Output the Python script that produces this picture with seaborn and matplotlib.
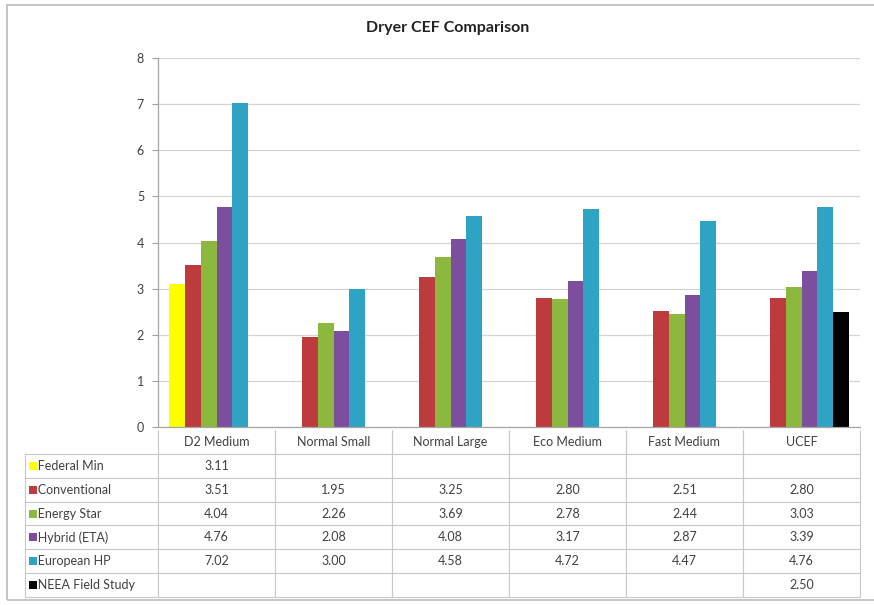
import matplotlib.pyplot as plt
import seaborn as sns
import pandas as pd
import numpy as np
from matplotlib.patches import Rectangle

categories = ["D2 Medium", "Normal Small", "Normal Large", "Eco Medium", "Fast Medium", "UCEF"]
series = ["Federal Min", "Conventional", "Energy Star", "Hybrid (ETA)", "European HP", "NEEA Field Study"]
federal_min = [3.11, None, None, None, None, None]
conventional = [3.51, 1.95, 3.25, 2.80, 2.51, 2.80]
energy_star = [4.04, 2.26, 3.69, 2.78, 2.44, 3.03]
hybrid_eta = [4.76, 2.08, 4.08, 3.17, 2.87, 3.39]
european_hp = [7.02, 3.00, 4.58, 4.72, 4.47, 4.76]
neea_field = [None, None, None, None, None, 2.50]
colors = ["#FFFF00", "#BE3B3D", "#8DB83E", "#7B4F9E", "#2FA3C4", "#000000"]

values = [federal_min, conventional, energy_star, hybrid_eta, european_hp, neea_field]
rows = []
for s, vals in zip(series, values):
    for c, v in zip(categories, vals):
        rows.append({"category": c, "series": s, "value": np.nan if v is None else v})
df = pd.DataFrame(rows)

sns.set_style("white")
plt.rcParams['font.family'] = ['Lato', 'DejaVu Sans']

fig = plt.figure(figsize=(8.74, 6.05), dpi=100)
ax = fig.add_axes([158 / 874, 1 - 427 / 605, 702 / 874, 369 / 605])

sns.barplot(data=df, x="category", y="value", hue="series", order=categories,
            hue_order=series, palette=colors, width=0.82, gap=0, ax=ax,
            legend=False, saturation=1, edgecolor="none")

ax.set_ylim(0, 8)
ax.set_xlim(-0.5, len(categories) - 0.5)
ax.set_yticks(range(0, 9))
ax.yaxis.grid(True, color="#D4D4D4", linewidth=0.9)
ax.set_axisbelow(True)
ax.set_xlabel("")
ax.set_ylabel("")
ax.set_xticks([])
ax.tick_params(axis="y", labelsize=9, colors="#404040", length=4, width=0.8, left=True, pad=6)
for t in ax.get_yticklabels():
    t.set_color("#404040")
ax.tick_params(axis="y", color="#A0A0A0")
for side in ["top", "right"]:
    ax.spines[side].set_visible(False)
for side in ["left", "bottom"]:
    ax.spines[side].set_color("#A6A6A6")
    ax.spines[side].set_linewidth(0.9)

# data table
cell_text = []
for s, vals in zip(series, values):
    cell_text.append(["   " + s] + ["" if v is None else f"{v:.2f}" for v in vals])
col_labels = [""] + categories
widths = [133] + [117] * 6
tot = sum(widths)
tab_left = -133 / 702
tab_top = -3 / 369
tab_h = 167 / 369
tab = ax.table(cellText=cell_text, colLabels=col_labels, colWidths=[w / tot for w in widths],
               cellLoc="center", bbox=[tab_left, tab_top - tab_h, tot / 702, tab_h])
tab.auto_set_font_size(False)
for (r, c), cell in tab.get_celld().items():
    cell.set_edgecolor("#C8C8C8")
    cell.set_linewidth(0.8)
    cell.get_text().set_fontsize(9)
    cell.get_text().set_color("#404040")
    if r == 0 and c == 0:
        cell.visible_edges = ""
    elif r == 0:
        cell.visible_edges = "BLR"
    if c == 0 and r > 0:
        cell.get_text().set_ha("left")
        cell._loc = "left"
        cell.PAD = 0.02

row_h = tab_h / 7
for i, col in enumerate(colors):
    yc = tab_top - row_h * (i + 1.5)
    ax.add_patch(Rectangle((tab_left + 4 / 702, yc - 4 / 369), 8 / 702, 8 / 369,
                           transform=ax.transAxes, clip_on=False, facecolor=col,
                           edgecolor="none"))

fig.text(0.512, 1 - 28 / 605, "Dryer CEF Comparison", ha="center", va="center",
         fontsize=11.5, fontweight="bold", color="#222222")

# chart border
fig.add_artist(Rectangle((7 / 874, 5 / 605), 1.0, 1 - 10 / 605, transform=fig.transFigure,
                         facecolor="none", edgecolor="#BBBBBB", linewidth=1.2))

fig.savefig("out.png", dpi=100)
